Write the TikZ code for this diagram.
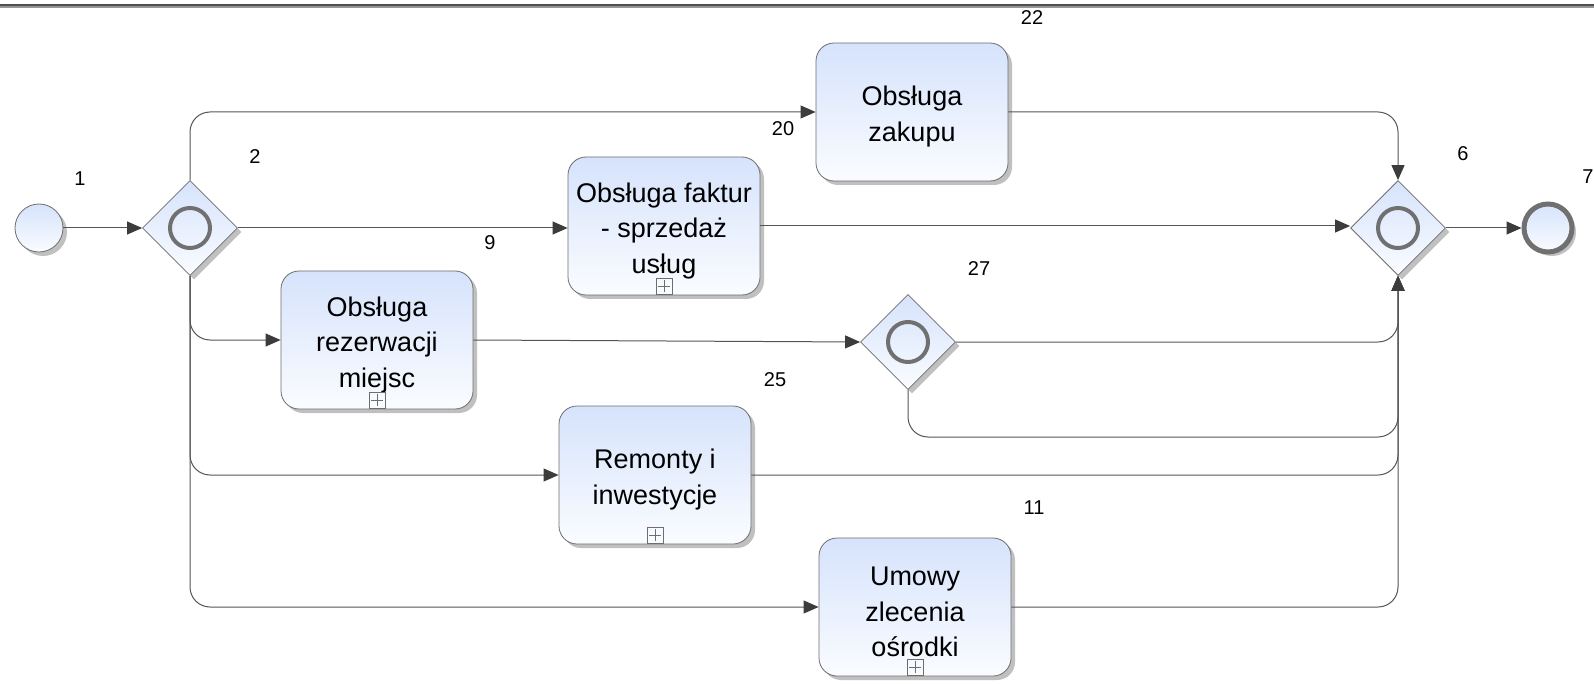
\documentclass[tikz,border=0pt]{standalone}
\usepackage{fontspec}
\setmainfont{Liberation Sans}
\usetikzlibrary{shapes.geometric,arrows.meta,shadows}

\definecolor{lineC}{RGB}{85,85,85}
\definecolor{tipC}{RGB}{60,60,60}
\definecolor{edgeC}{RGB}{110,110,110}
\definecolor{fillTop}{RGB}{214,227,252}
\definecolor{fillBot}{RGB}{250,252,255}
\definecolor{ringC}{RGB}{112,112,112}
\definecolor{shadowC}{RGB}{192,192,192}
\definecolor{rimDark}{RGB}{80,80,80}
\definecolor{rimLight}{RGB}{150,150,150}

% tall strut on the first line pushes task labels slightly down
\newcommand{\toplift}{\rule{0pt}{29pt}}

\begin{document}
\begin{tikzpicture}[x=1pt,y=-1pt,
  bshadow/.style={drop shadow={shadow xshift=4pt,shadow yshift=-4pt,fill=shadowC,opacity=1}},
  task/.style={rectangle,rounded corners=18pt,draw=edgeC,line width=0.8pt,
    top color=fillTop,bottom color=fillBot,bshadow,
    minimum width=192pt,minimum height=138pt,inner sep=0pt,
    align=center,font=\fontsize{27}{35.5}\selectfont},
  gate/.style={diamond,draw=edgeC,line width=0.8pt,top color=fillTop,bottom color=fillBot,
    bshadow,minimum width=95pt,minimum height=95pt,inner sep=0pt},
  ring/.style={draw=ringC,line width=4pt},
  startev/.style={circle,draw=edgeC,line width=0.8pt,top color=fillTop,bottom color=fillBot,
    bshadow,minimum size=48pt,inner sep=0pt},
  endev/.style={circle,draw=ringC,line width=5pt,top color=fillTop,bottom color=fillBot,
    bshadow,minimum size=48pt,inner sep=0pt},
  subm/.style={rectangle,draw=edgeC,line width=0.7pt,minimum size=16pt,inner sep=0pt,
    path picture={\draw[edgeC,line width=0.7pt]
      ([xshift=-6pt]path picture bounding box.center) -- ([xshift=6pt]path picture bounding box.center)
      ([yshift=-6pt]path picture bounding box.center) -- ([yshift=6pt]path picture bounding box.center);}},
  flow/.style={draw=lineC,line width=1pt,rounded corners=20pt,
    -{Triangle[length=15pt,width=13pt,color=tipC]}},
  num/.style={font=\fontsize{20}{24}\selectfont,inner sep=0pt}]

\useasboundingbox (0,0) rectangle (1594,684);

% header rule
\draw[rimDark,line width=2pt] (0,5) -- (1594,5);
\draw[rimLight,line width=2pt] (0,7.5) -- (1594,7.5);

% events and gateways
\node[startev] (start) at (39,228) {};
\node[gate] (g2) at (190,228) {};
\draw[ring] (g2.center) circle[radius=20];
\node[gate] (g6) at (1398,228) {};
\draw[ring] (g6.center) circle[radius=20];
\node[gate] (g27) at (908,342) {};
\draw[ring] (g27.center) circle[radius=20];
\node[endev] (end) at (1548,228) {};

% tasks
\node[task] (zakupu) at (912,112) {\toplift Obsługa\\zakupu};
\node[task] (faktur) at (664,226) {\toplift Obsługa faktur\\- sprzedaż\\usług};
\node[task] (rezerw) at (377,340) {\toplift Obsługa\\rezerwacji\\miejsc};
\node[task] (remonty) at (655,475) {\toplift Remonty i\\inwestycje};
\node[task] (umowy) at (915,607) {\toplift Umowy\\zlecenia\\ośrodki};

% sub-process markers
\node[subm] (mfaktur) at ([yshift=9.5pt]faktur.south) {};
\node[subm] (mrezerw) at ([yshift=9.5pt]rezerw.south) {};
\node[subm] (mremonty) at ([yshift=9.5pt]remonty.south) {};
\node[subm] (mumowy) at ([yshift=9.5pt]umowy.south) {};

% sequence flows
\coordinate (loop) at (1398,437);
\draw[flow] (start) -- (g2.west);
\draw[flow] (g2.north) |- (zakupu.west);
\draw[flow] (zakupu.east) -| (g6.north);
\draw[flow] (g2.east) -- (g2.east -| faktur.west);
\draw[flow] (faktur.east) -- (faktur.east -| g6.west);
\draw[flow] (g2.south) |- (rezerw.west);
\draw[flow] (g2.south) |- (remonty.west);
\draw[flow] (g2.south) |- (umowy.west);
\draw[flow] (rezerw.east) -- (g27.west);
\draw[flow] (g27.east) -| (g6.south);
\draw[flow] (g27.south) |- (loop) -- (g6.south);
\draw[flow] (remonty.east) -| (g6.south);
\draw[flow] (umowy.east) -| (g6.south);
\draw[flow] (g6.east) -- (end.west);

% element numbers
\node[num] (n1) at (80,179) {1};
\node[num] (n2) at (255,157) {2};
\node[num] (n6) at (1463,154) {6};
\node[num] (n7) at (1588,177) {7};
\node[num] (n22) at (1032,18) {22};
\node[num] (n20) at (783,129) {20};
\node[num] (n9) at (490,243) {9};
\node[num] (n27) at (979,269) {27};
\node[num] (n25) at (775,380) {25};
\node[num] (n11) at (1034,508) {11};
\end{tikzpicture}
\end{document}
